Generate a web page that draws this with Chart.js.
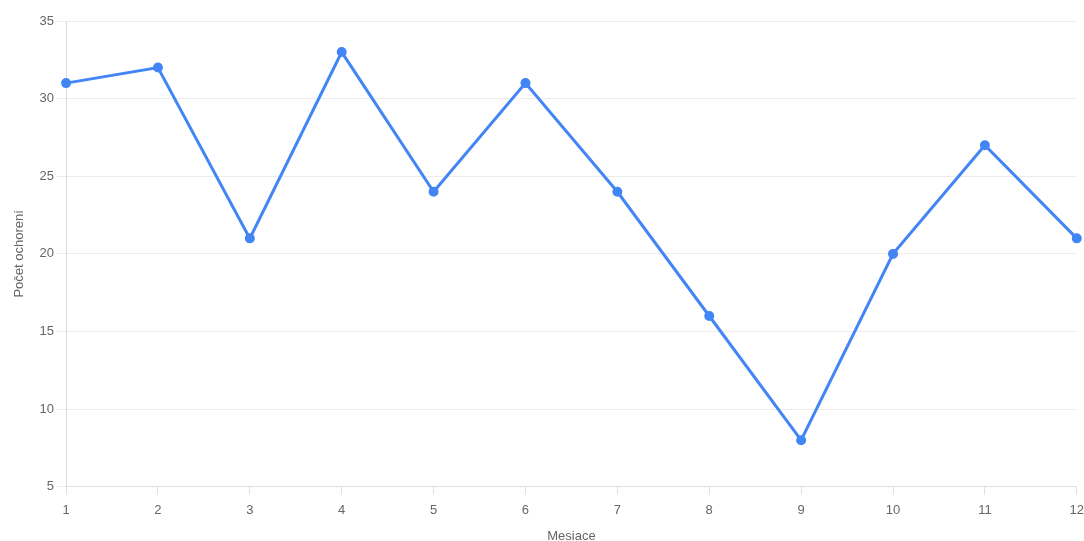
<!DOCTYPE html>
<html>
<head>
<meta charset="utf-8">
<script src="https://cdn.jsdelivr.net/npm/chart.js@4/dist/chart.umd.min.js"></script>
<style>
html,body{margin:0;padding:0;background:#fff;overflow:hidden;width:1084px;height:541px;}
#wrap{position:absolute;left:0;top:0;width:1092px;height:544px;}
</style>
</head>
<body>
<div id="wrap"><canvas id="c"></canvas></div>
<script>
const months = ['1','2','3','4','5','6','7','8','9','10','11','12'];
const cases = [31,32,21,33,24,31,24,16,8,20,27,21];
const yMin = 5, yMax = 35, yStep = 5;
const xTitle = 'Mesiace';
const yTitle = 'Počet ochorení';

Chart.defaults.font.family = 'Arial, "Liberation Sans", sans-serif';
Chart.defaults.font.size = 13;
Chart.defaults.color = '#666';

new Chart(document.getElementById('c'), {
  type: 'line',
  data: {
    labels: months,
    datasets: [{
      data: cases,
      borderColor: '#4285F4',
      backgroundColor: '#4285F4',
      borderWidth: 3,
      pointRadius: 3.5,
      pointHoverRadius: 3.5,
      tension: 0,
      fill: false
    }]
  },
  options: {
    responsive: true,
    maintainAspectRatio: false,
    animation: false,
    layout: { padding: { top: 21, right: 15, left: 12, bottom: 0 } },
    plugins: { legend: { display: false }, tooltip: { enabled: false } },
    scales: {
      x: {
        offset: false,
        grid: { drawOnChartArea: false, color: '#e0e0e0', tickLength: 8 },
        border: { color: '#ddd' },
        ticks: { padding: 8 },
        title: { display: true, text: xTitle, padding: { top: 2, bottom: 0 } }
      },
      y: {
        min: yMin, max: yMax,
        ticks: { stepSize: yStep, padding: 3 },
        grid: { color: '#ececec', tickLength: 9 },
        border: { color: '#ddd' },
        title: { display: true, text: yTitle, padding: { top: 0, bottom: 9 } }
      }
    }
  }
});
</script>
</body>
</html>
